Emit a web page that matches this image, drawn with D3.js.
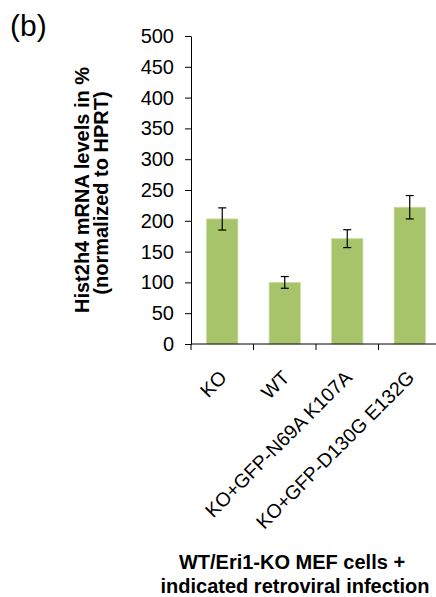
<!DOCTYPE html>
<html>
<head>
<meta charset="utf-8">
<script src="https://cdn.jsdelivr.net/npm/d3@7"></script>
<style>
  body { margin: 0; background: #fff; }
  text { font-family: "Liberation Sans", Arial, sans-serif; fill: #000; }
</style>
</head>
<body>
<div id="chart"></div>
<script>
// data
var groups = ["KO", "WT", "KO+GFP-N69A K107A", "KO+GFP-D130G E132G"];
var values = [203, 100, 171, 222];
var errors = [18, 9.5, 14.5, 19];
var yTicks = [0, 50, 100, 150, 200, 250, 300, 350, 400, 450, 500];

var width = 436, height = 597;
var margin = {top: 36, left: 191, bottom: 344};

var svg = d3.select("#chart")
    .append("svg")
        .attr("width", width)
        .attr("height", height);

// x: bands of 62.5px, the last one runs past the right edge
var x = d3.scaleBand()
    .domain(groups)
    .range([margin.left, margin.left + 62.5 * groups.length])
    .paddingInner(0.5)
    .paddingOuter(0.25);

var y = d3.scaleLinear()
    .domain([0, 500])
    .range([margin.bottom, margin.top]);

// Y axis
var yAxis = svg.append("g")
    .attr("transform", "translate(" + margin.left + ",0)")
    .call(d3.axisLeft(y).tickValues(yTicks).tickSize(6).tickPadding(11).tickSizeOuter(0));
yAxis.select(".domain").attr("stroke", "#000");
yAxis.selectAll(".tick line").attr("stroke", "#000");
yAxis.selectAll(".tick text")
    .style("font-size", "20px")
    .style("font-family", "Liberation Sans, Arial, sans-serif");

// bars
svg.selectAll("rect.bar")
    .data(values)
    .enter()
    .append("rect")
        .attr("class", "bar")
        .attr("x", function(d, i) { return x(groups[i]); })
        .attr("width", x.bandwidth())
        .attr("y", function(d) { return y(d); })
        .attr("height", function(d) { return y(0) - y(d); })
        .attr("fill", "#a7c46b")
        .attr("stroke", "#c9dca0")
        .attr("stroke-width", 0.8);

// error bars
var eb = svg.selectAll("g.err")
    .data(values)
    .enter()
    .append("g")
        .attr("class", "err")
        .attr("transform", function(d, i) { return "translate(" + (x(groups[i]) + x.bandwidth() / 2) + ",0)"; });
eb.append("line")
    .attr("y1", function(d, i) { return y(d + errors[i]); })
    .attr("y2", function(d, i) { return y(d - errors[i]); })
    .attr("stroke", "#000").attr("stroke-width", 1.2);
eb.append("line")
    .attr("x1", -4).attr("x2", 4)
    .attr("y1", function(d, i) { return y(d + errors[i]); })
    .attr("y2", function(d, i) { return y(d + errors[i]); })
    .attr("stroke", "#000").attr("stroke-width", 1.2);
eb.append("line")
    .attr("x1", -4).attr("x2", 4)
    .attr("y1", function(d, i) { return y(d - errors[i]); })
    .attr("y2", function(d, i) { return y(d - errors[i]); })
    .attr("stroke", "#000").attr("stroke-width", 1.2);

// X axis line and ticks between categories
var xEdges = groups.map(function(g) { return x(g) - x.step() * 0.25; });
svg.append("line")
    .attr("x1", margin.left).attr("x2", width)
    .attr("y1", y(0)).attr("y2", y(0))
    .attr("stroke", "#000");
svg.selectAll("line.xtick")
    .data(xEdges)
    .enter()
    .append("line")
        .attr("class", "xtick")
        .attr("x1", function(d) { return d; })
        .attr("x2", function(d) { return d; })
        .attr("y1", y(0)).attr("y2", y(0) + 6)
        .attr("stroke", "#000");

// category labels, rotated
svg.selectAll("text.xlab")
    .data(groups)
    .enter()
    .append("text")
        .attr("class", "xlab")
        .attr("transform", function(d) {
            return "translate(" + (x(d) + x.bandwidth() / 2 + 1) + "," + (y(0) + 30) + ") rotate(-45)";
        })
        .attr("text-anchor", "end")
        .attr("dy", "0.35em")
        .style("font-size", "19.5px")
        .text(function(d) { return d; });

// y title
var yTitle = svg.append("text")
    .attr("transform", "translate(89,190) rotate(-90)")
    .attr("text-anchor", "middle")
    .style("font-size", "20px")
    .style("font-weight", "bold");
yTitle.append("tspan").attr("x", 0).attr("y", 0).text("Hist2h4 mRNA levels in %");
yTitle.append("tspan").attr("x", -3).attr("y", 19).text("(normalized to HPRT)");

// x title
var xTitle = svg.append("text")
    .attr("text-anchor", "middle")
    .style("font-size", "20px")
    .style("font-weight", "bold");
xTitle.append("tspan").attr("x", 292).attr("y", 569).text("WT/Eri1-KO MEF cells +");
xTitle.append("tspan").attr("x", 295).attr("y", 593).text("indicated retroviral infection");

// panel letter
svg.append("text")
    .attr("x", 10).attr("y", 36)
    .style("font-size", "30px")
    .text("(b)");
</script>
</body>
</html>
